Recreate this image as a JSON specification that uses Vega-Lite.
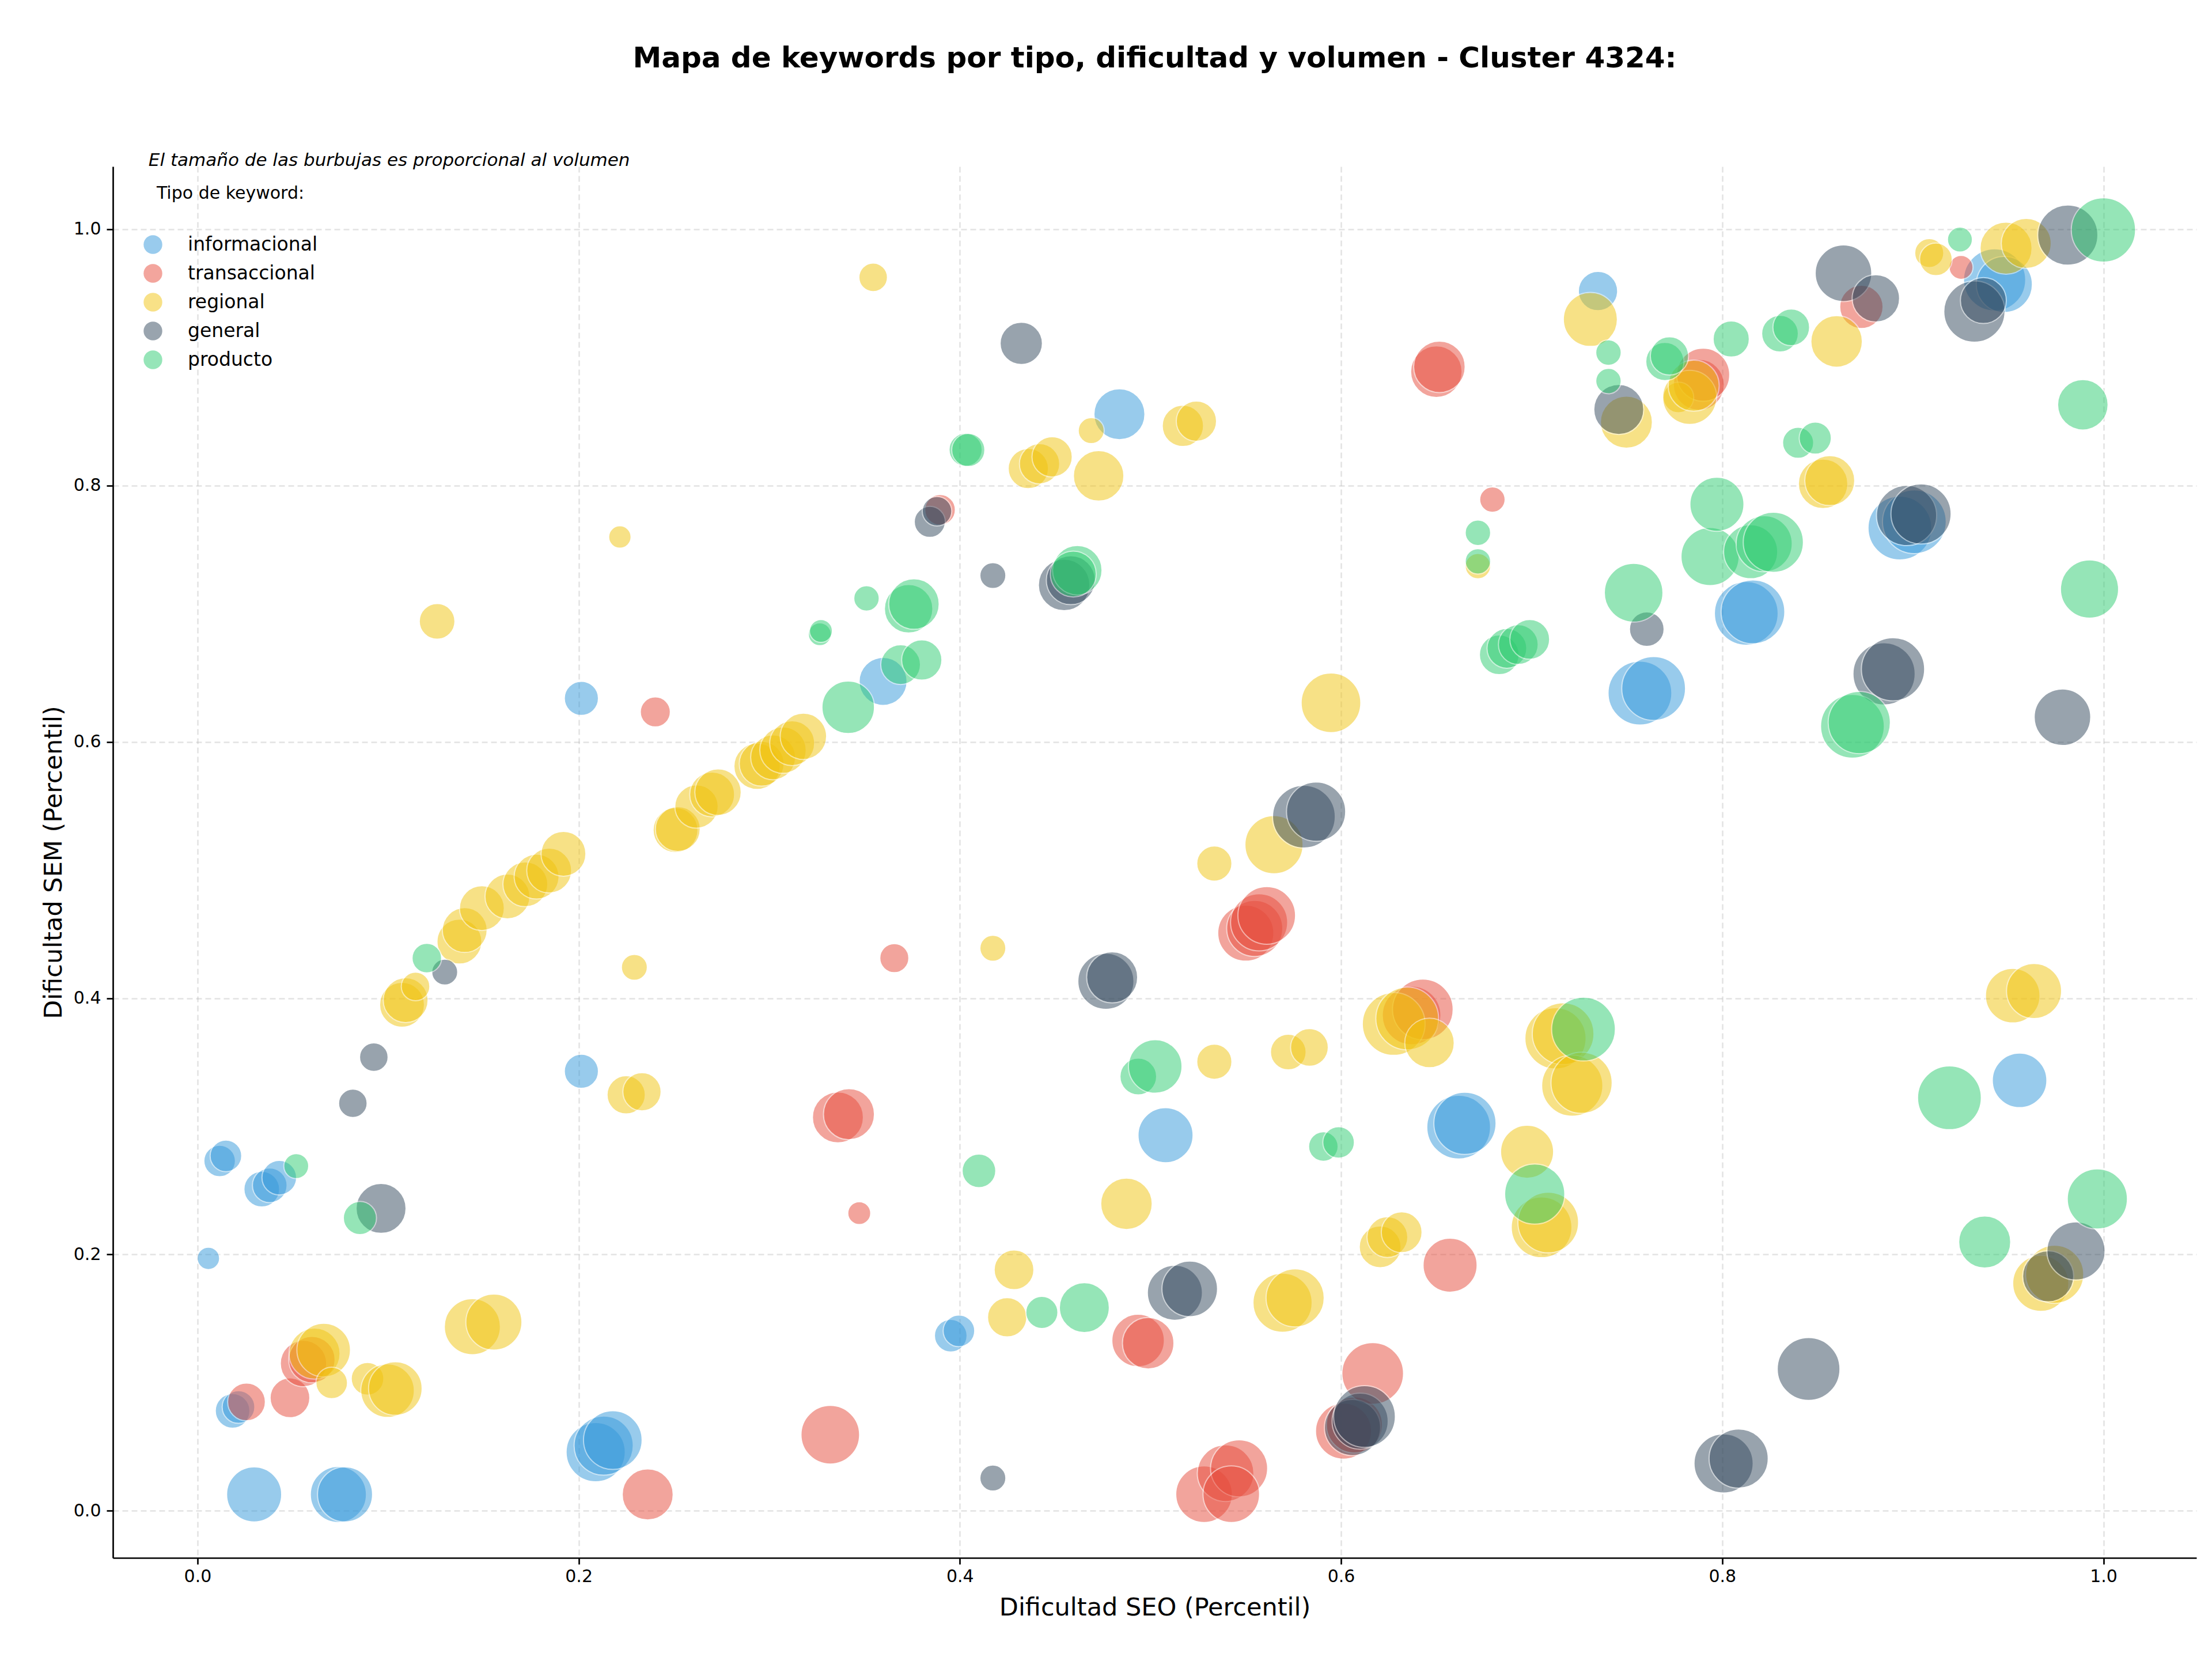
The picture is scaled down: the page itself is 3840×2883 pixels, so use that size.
{
  "$schema": "https://vega.github.io/schema/vega-lite/v6.json",
  "autosize": {"type": "none"},
  "padding": {"left": 196, "top": 289, "right": 27, "bottom": 179},
  "width": 3617,
  "height": 2415,
  "background": "white",
  "title": {"text": "Mapa de keywords por tipo, dificultad y volumen - Cluster 4324:", "fontSize": 50, "fontWeight": "bold", "font": "DejaVu Sans", "color": "black", "anchor": "middle", "offset": 136},
  "config": {
    "view": {"stroke": null},
    "axis": {"labelFont": "DejaVu Sans", "titleFont": "DejaVu Sans", "labelFontSize": 30, "titleFontSize": 43, "titleFontWeight": "normal", "labelColor": "black", "titleColor": "black", "domainColor": "black", "domainWidth": 2.7, "tickColor": "black", "tickWidth": 2.7, "tickSize": 11, "grid": true, "gridDash": [10, 6], "gridColor": "#b0b0b0", "gridOpacity": 0.35, "gridWidth": 2.5}
  },
  "datasets": {
    "kw": [
      {"tipo":"informacional","seo":0.0057,"sem":0.197,"volumen":194},
      {"tipo":"informacional","seo":0.0116,"sem":0.273,"volumen":384},
      {"tipo":"informacional","seo":0.0149,"sem":0.277,"volumen":384},
      {"tipo":"informacional","seo":0.0337,"sem":0.251,"volumen":490},
      {"tipo":"informacional","seo":0.0379,"sem":0.254,"volumen":462},
      {"tipo":"informacional","seo":0.0429,"sem":0.260,"volumen":462},
      {"tipo":"informacional","seo":0.0184,"sem":0.078,"volumen":462},
      {"tipo":"informacional","seo":0.0215,"sem":0.081,"volumen":410},
      {"tipo":"informacional","seo":0.0297,"sem":0.0128,"volumen":1166},
      {"tipo":"informacional","seo":0.0739,"sem":0.0128,"volumen":1210},
      {"tipo":"informacional","seo":0.0774,"sem":0.0128,"volumen":1166},
      {"tipo":"informacional","seo":0.2014,"sem":0.343,"volumen":449},
      {"tipo":"informacional","seo":0.2014,"sem":0.634,"volumen":449},
      {"tipo":"informacional","seo":0.2089,"sem":0.0458,"volumen":1346},
      {"tipo":"informacional","seo":0.2131,"sem":0.0509,"volumen":1346},
      {"tipo":"informacional","seo":0.2179,"sem":0.0552,"volumen":1322},
      {"tipo":"informacional","seo":0.3597,"sem":0.6472,"volumen":884},
      {"tipo":"informacional","seo":0.3952,"sem":0.1367,"volumen":410},
      {"tipo":"informacional","seo":0.3995,"sem":0.1404,"volumen":384},
      {"tipo":"informacional","seo":0.4837,"sem":0.8557,"volumen":1000},
      {"tipo":"informacional","seo":0.5079,"sem":0.2931,"volumen":1166},
      {"tipo":"informacional","seo":0.6617,"sem":0.2994,"volumen":1563},
      {"tipo":"informacional","seo":0.665,"sem":0.3024,"volumen":1488},
      {"tipo":"informacional","seo":0.7348,"sem":0.9518,"volumen":593},
      {"tipo":"informacional","seo":0.7568,"sem":0.6381,"volumen":1563},
      {"tipo":"informacional","seo":0.764,"sem":0.6417,"volumen":1563},
      {"tipo":"informacional","seo":0.8126,"sem":0.7003,"volumen":1563},
      {"tipo":"informacional","seo":0.8161,"sem":0.7015,"volumen":1563},
      {"tipo":"informacional","seo":0.8932,"sem":0.7669,"volumen":1563},
      {"tipo":"informacional","seo":0.9008,"sem":0.7718,"volumen":1563},
      {"tipo":"informacional","seo":0.9429,"sem":0.9605,"volumen":1488},
      {"tipo":"informacional","seo":0.948,"sem":0.957,"volumen":1210},
      {"tipo":"informacional","seo":0.956,"sem":0.3359,"volumen":1145},
      {"tipo":"transaccional","seo":0.0257,"sem":0.085,"volumen":548},
      {"tipo":"transaccional","seo":0.0485,"sem":0.0882,"volumen":608},
      {"tipo":"transaccional","seo":0.0556,"sem":0.115,"volumen":828},
      {"tipo":"transaccional","seo":0.06,"sem":0.118,"volumen":828},
      {"tipo":"transaccional","seo":0.2362,"sem":0.0128,"volumen":1000},
      {"tipo":"transaccional","seo":0.2402,"sem":0.6234,"volumen":348},
      {"tipo":"transaccional","seo":0.332,"sem":0.0594,"volumen":1322},
      {"tipo":"transaccional","seo":0.336,"sem":0.307,"volumen":1000},
      {"tipo":"transaccional","seo":0.3418,"sem":0.3095,"volumen":1000},
      {"tipo":"transaccional","seo":0.3472,"sem":0.2323,"volumen":203},
      {"tipo":"transaccional","seo":0.3656,"sem":0.4313,"volumen":325},
      {"tipo":"transaccional","seo":0.3896,"sem":0.7811,"volumen":360},
      {"tipo":"transaccional","seo":0.4935,"sem":0.1329,"volumen":1061},
      {"tipo":"transaccional","seo":0.4988,"sem":0.1308,"volumen":1020},
      {"tipo":"transaccional","seo":0.5281,"sem":0.013,"volumen":1232},
      {"tipo":"transaccional","seo":0.5394,"sem":0.0294,"volumen":1232},
      {"tipo":"transaccional","seo":0.5465,"sem":0.0332,"volumen":1254},
      {"tipo":"transaccional","seo":0.5424,"sem":0.013,"volumen":1232},
      {"tipo":"transaccional","seo":0.55,"sem":0.4508,"volumen":1210},
      {"tipo":"transaccional","seo":0.5547,"sem":0.4544,"volumen":1210},
      {"tipo":"transaccional","seo":0.557,"sem":0.4592,"volumen":1254},
      {"tipo":"transaccional","seo":0.561,"sem":0.4646,"volumen":1277},
      {"tipo":"transaccional","seo":0.6013,"sem":0.0622,"volumen":1210},
      {"tipo":"transaccional","seo":0.607,"sem":0.067,"volumen":1210},
      {"tipo":"transaccional","seo":0.6166,"sem":0.1072,"volumen":1464},
      {"tipo":"transaccional","seo":0.637,"sem":0.3866,"volumen":1322},
      {"tipo":"transaccional","seo":0.6429,"sem":0.3913,"volumen":1416},
      {"tipo":"transaccional","seo":0.65,"sem":0.8889,"volumen":1020},
      {"tipo":"transaccional","seo":0.6516,"sem":0.8927,"volumen":1020},
      {"tipo":"transaccional","seo":0.6572,"sem":0.1917,"volumen":1124},
      {"tipo":"transaccional","seo":0.6794,"sem":0.7891,"volumen":250},
      {"tipo":"transaccional","seo":0.7877,"sem":0.8787,"volumen":1000},
      {"tipo":"transaccional","seo":0.79,"sem":0.8865,"volumen":1082},
      {"tipo":"transaccional","seo":0.873,"sem":0.9395,"volumen":723},
      {"tipo":"transaccional","seo":0.9253,"sem":0.9703,"volumen":221},
      {"tipo":"regional","seo":0.0614,"sem":0.1227,"volumen":1000},
      {"tipo":"regional","seo":0.0662,"sem":0.1255,"volumen":1103},
      {"tipo":"regional","seo":0.0704,"sem":0.0998,"volumen":384},
      {"tipo":"regional","seo":0.0892,"sem":0.1031,"volumen":410},
      {"tipo":"regional","seo":0.0997,"sem":0.0938,"volumen":1103},
      {"tipo":"regional","seo":0.1038,"sem":0.0955,"volumen":1103},
      {"tipo":"regional","seo":0.1442,"sem":0.1437,"volumen":1210},
      {"tipo":"regional","seo":0.1555,"sem":0.1473,"volumen":1210},
      {"tipo":"regional","seo":0.1073,"sem":0.3949,"volumen":774},
      {"tipo":"regional","seo":0.1092,"sem":0.3985,"volumen":774},
      {"tipo":"regional","seo":0.1144,"sem":0.4092,"volumen":314},
      {"tipo":"regional","seo":0.1257,"sem":0.6941,"volumen":490},
      {"tipo":"regional","seo":0.1374,"sem":0.4442,"volumen":774},
      {"tipo":"regional","seo":0.1402,"sem":0.4532,"volumen":774},
      {"tipo":"regional","seo":0.1492,"sem":0.4703,"volumen":774},
      {"tipo":"regional","seo":0.1626,"sem":0.4794,"volumen":774},
      {"tipo":"regional","seo":0.172,"sem":0.4889,"volumen":774},
      {"tipo":"regional","seo":0.1779,"sem":0.4949,"volumen":774},
      {"tipo":"regional","seo":0.1845,"sem":0.4996,"volumen":774},
      {"tipo":"regional","seo":0.192,"sem":0.5127,"volumen":774},
      {"tipo":"regional","seo":0.2216,"sem":0.7599,"volumen":194},
      {"tipo":"regional","seo":0.2249,"sem":0.3246,"volumen":563},
      {"tipo":"regional","seo":0.2332,"sem":0.327,"volumen":563},
      {"tipo":"regional","seo":0.2292,"sem":0.4241,"volumen":260},
      {"tipo":"regional","seo":0.2508,"sem":0.5312,"volumen":774},
      {"tipo":"regional","seo":0.252,"sem":0.532,"volumen":774},
      {"tipo":"regional","seo":0.2618,"sem":0.5496,"volumen":723},
      {"tipo":"regional","seo":0.27,"sem":0.559,"volumen":774},
      {"tipo":"regional","seo":0.2731,"sem":0.5608,"volumen":828},
      {"tipo":"regional","seo":0.2936,"sem":0.581,"volumen":828},
      {"tipo":"regional","seo":0.296,"sem":0.583,"volumen":774},
      {"tipo":"regional","seo":0.302,"sem":0.588,"volumen":774},
      {"tipo":"regional","seo":0.3072,"sem":0.5936,"volumen":828},
      {"tipo":"regional","seo":0.312,"sem":0.599,"volumen":774},
      {"tipo":"regional","seo":0.3179,"sem":0.6044,"volumen":828},
      {"tipo":"regional","seo":0.3545,"sem":0.9625,"volumen":314},
      {"tipo":"regional","seo":0.4173,"sem":0.439,"volumen":260},
      {"tipo":"regional","seo":0.4248,"sem":0.151,"volumen":593},
      {"tipo":"regional","seo":0.4284,"sem":0.1881,"volumen":608},
      {"tipo":"regional","seo":0.4359,"sem":0.8133,"volumen":624},
      {"tipo":"regional","seo":0.4418,"sem":0.817,"volumen":624},
      {"tipo":"regional","seo":0.4484,"sem":0.8224,"volumen":624},
      {"tipo":"regional","seo":0.4689,"sem":0.8429,"volumen":260},
      {"tipo":"regional","seo":0.4728,"sem":0.8076,"volumen":980},
      {"tipo":"regional","seo":0.4874,"sem":0.2396,"volumen":1020},
      {"tipo":"regional","seo":0.517,"sem":0.8466,"volumen":656},
      {"tipo":"regional","seo":0.5241,"sem":0.8503,"volumen":624},
      {"tipo":"regional","seo":0.5335,"sem":0.5051,"volumen":476},
      {"tipo":"regional","seo":0.5335,"sem":0.3504,"volumen":476},
      {"tipo":"regional","seo":0.5648,"sem":0.5198,"volumen":1300},
      {"tipo":"regional","seo":0.5693,"sem":0.1624,"volumen":1346},
      {"tipo":"regional","seo":0.5759,"sem":0.1662,"volumen":1300},
      {"tipo":"regional","seo":0.5723,"sem":0.358,"volumen":490},
      {"tipo":"regional","seo":0.5834,"sem":0.3616,"volumen":548},
      {"tipo":"regional","seo":0.5947,"sem":0.6305,"volumen":1369},
      {"tipo":"regional","seo":0.6205,"sem":0.206,"volumen":672},
      {"tipo":"regional","seo":0.6243,"sem":0.2136,"volumen":640},
      {"tipo":"regional","seo":0.6318,"sem":0.2174,"volumen":640},
      {"tipo":"regional","seo":0.6276,"sem":0.3799,"volumen":1513},
      {"tipo":"regional","seo":0.6347,"sem":0.3842,"volumen":1513},
      {"tipo":"regional","seo":0.6464,"sem":0.3651,"volumen":941},
      {"tipo":"regional","seo":0.6718,"sem":0.7372,"volumen":250},
      {"tipo":"regional","seo":0.6976,"sem":0.2802,"volumen":1082},
      {"tipo":"regional","seo":0.7052,"sem":0.2212,"volumen":1416},
      {"tipo":"regional","seo":0.7087,"sem":0.225,"volumen":1416},
      {"tipo":"regional","seo":0.7125,"sem":0.3687,"volumen":1440},
      {"tipo":"regional","seo":0.7165,"sem":0.3723,"volumen":1464},
      {"tipo":"regional","seo":0.7213,"sem":0.3318,"volumen":1440},
      {"tipo":"regional","seo":0.7262,"sem":0.334,"volumen":1440},
      {"tipo":"regional","seo":0.7308,"sem":0.9297,"volumen":1124},
      {"tipo":"regional","seo":0.7497,"sem":0.8495,"volumen":1040},
      {"tipo":"regional","seo":0.777,"sem":0.8688,"volumen":360},
      {"tipo":"regional","seo":0.7829,"sem":0.8688,"volumen":1124},
      {"tipo":"regional","seo":0.785,"sem":0.878,"volumen":1000},
      {"tipo":"regional","seo":0.8529,"sem":0.8014,"volumen":941},
      {"tipo":"regional","seo":0.8564,"sem":0.8039,"volumen":960},
      {"tipo":"regional","seo":0.86,"sem":0.9125,"volumen":1020},
      {"tipo":"regional","seo":0.9086,"sem":0.9815,"volumen":325},
      {"tipo":"regional","seo":0.9121,"sem":0.9766,"volumen":410},
      {"tipo":"regional","seo":0.9489,"sem":0.9853,"volumen":1040},
      {"tipo":"regional","seo":0.9595,"sem":0.989,"volumen":960},
      {"tipo":"regional","seo":0.9524,"sem":0.402,"volumen":1145},
      {"tipo":"regional","seo":0.9636,"sem":0.4056,"volumen":1166},
      {"tipo":"regional","seo":0.9671,"sem":0.1775,"volumen":1210},
      {"tipo":"regional","seo":0.9744,"sem":0.1846,"volumen":1300},
      {"tipo":"general","seo":0.0815,"sem":0.318,"volumen":314},
      {"tipo":"general","seo":0.0925,"sem":0.354,"volumen":314},
      {"tipo":"general","seo":0.0963,"sem":0.236,"volumen":960},
      {"tipo":"general","seo":0.1297,"sem":0.4204,"volumen":260},
      {"tipo":"general","seo":0.3842,"sem":0.7717,"volumen":372},
      {"tipo":"general","seo":0.388,"sem":0.78,"volumen":336},
      {"tipo":"general","seo":0.4173,"sem":0.0256,"volumen":260},
      {"tipo":"general","seo":0.4173,"sem":0.7298,"volumen":260},
      {"tipo":"general","seo":0.4322,"sem":0.911,"volumen":689},
      {"tipo":"general","seo":0.4547,"sem":0.7225,"volumen":1020},
      {"tipo":"general","seo":0.4582,"sem":0.7262,"volumen":922},
      {"tipo":"general","seo":0.4766,"sem":0.4132,"volumen":1210},
      {"tipo":"general","seo":0.4799,"sem":0.4163,"volumen":1000},
      {"tipo":"general","seo":0.5128,"sem":0.1702,"volumen":1166},
      {"tipo":"general","seo":0.5206,"sem":0.1732,"volumen":1188},
      {"tipo":"general","seo":0.5805,"sem":0.5417,"volumen":1513},
      {"tipo":"general","seo":0.5869,"sem":0.5456,"volumen":1346},
      {"tipo":"general","seo":0.606,"sem":0.065,"volumen":1210},
      {"tipo":"general","seo":0.61,"sem":0.07,"volumen":1210},
      {"tipo":"general","seo":0.6123,"sem":0.0736,"volumen":1464},
      {"tipo":"general","seo":0.7457,"sem":0.8594,"volumen":960},
      {"tipo":"general","seo":0.7604,"sem":0.688,"volumen":462},
      {"tipo":"general","seo":0.8007,"sem":0.037,"volumen":1346},
      {"tipo":"general","seo":0.8086,"sem":0.0408,"volumen":1346},
      {"tipo":"general","seo":0.8453,"sem":0.1107,"volumen":1513},
      {"tipo":"general","seo":0.8636,"sem":0.9657,"volumen":1232},
      {"tipo":"general","seo":0.8806,"sem":0.9461,"volumen":865},
      {"tipo":"general","seo":0.8849,"sem":0.6531,"volumen":1488},
      {"tipo":"general","seo":0.8896,"sem":0.6567,"volumen":1538},
      {"tipo":"general","seo":0.8967,"sem":0.7767,"volumen":1392},
      {"tipo":"general","seo":0.9043,"sem":0.7779,"volumen":1392},
      {"tipo":"general","seo":0.9323,"sem":0.9358,"volumen":1440},
      {"tipo":"general","seo":0.937,"sem":0.9444,"volumen":810},
      {"tipo":"general","seo":0.971,"sem":0.183,"volumen":1000},
      {"tipo":"general","seo":0.9785,"sem":0.6193,"volumen":1232},
      {"tipo":"general","seo":0.9813,"sem":0.9955,"volumen":1392},
      {"tipo":"general","seo":0.9856,"sem":0.2028,"volumen":1300},
      {"tipo":"producto","seo":0.0518,"sem":0.269,"volumen":240},
      {"tipo":"producto","seo":0.0852,"sem":0.2285,"volumen":423},
      {"tipo":"producto","seo":0.1203,"sem":0.4313,"volumen":336},
      {"tipo":"producto","seo":0.3265,"sem":0.684,"volumen":203},
      {"tipo":"producto","seo":0.3271,"sem":0.6866,"volumen":203},
      {"tipo":"producto","seo":0.3414,"sem":0.627,"volumen":1061},
      {"tipo":"producto","seo":0.351,"sem":0.712,"volumen":250},
      {"tipo":"producto","seo":0.3689,"sem":0.6603,"volumen":608},
      {"tipo":"producto","seo":0.3731,"sem":0.7039,"volumen":903},
      {"tipo":"producto","seo":0.3759,"sem":0.7076,"volumen":980},
      {"tipo":"producto","seo":0.38,"sem":0.6639,"volumen":624},
      {"tipo":"producto","seo":0.403,"sem":0.828,"volumen":423},
      {"tipo":"producto","seo":0.4044,"sem":0.8278,"volumen":423},
      {"tipo":"producto","seo":0.41,"sem":0.2653,"volumen":436},
      {"tipo":"producto","seo":0.443,"sem":0.1548,"volumen":397},
      {"tipo":"producto","seo":0.4616,"sem":0.734,"volumen":941},
      {"tipo":"producto","seo":0.4595,"sem":0.731,"volumen":810},
      {"tipo":"producto","seo":0.4653,"sem":0.1586,"volumen":960},
      {"tipo":"producto","seo":0.4936,"sem":0.3389,"volumen":518},
      {"tipo":"producto","seo":0.5025,"sem":0.3468,"volumen":1103},
      {"tipo":"producto","seo":0.5907,"sem":0.2843,"volumen":336},
      {"tipo":"producto","seo":0.5987,"sem":0.2875,"volumen":384},
      {"tipo":"producto","seo":0.6718,"sem":0.7632,"volumen":250},
      {"tipo":"producto","seo":0.6718,"sem":0.7409,"volumen":250},
      {"tipo":"producto","seo":0.683,"sem":0.668,"volumen":608},
      {"tipo":"producto","seo":0.687,"sem":0.673,"volumen":608},
      {"tipo":"producto","seo":0.693,"sem":0.676,"volumen":608},
      {"tipo":"producto","seo":0.699,"sem":0.68,"volumen":608},
      {"tipo":"producto","seo":0.7016,"sem":0.2472,"volumen":1392},
      {"tipo":"producto","seo":0.7272,"sem":0.3759,"volumen":1563},
      {"tipo":"producto","seo":0.7403,"sem":0.9038,"volumen":250},
      {"tipo":"producto","seo":0.7403,"sem":0.8816,"volumen":250},
      {"tipo":"producto","seo":0.7535,"sem":0.7164,"volumen":1322},
      {"tipo":"producto","seo":0.7699,"sem":0.8968,"volumen":563},
      {"tipo":"producto","seo":0.7723,"sem":0.9012,"volumen":563},
      {"tipo":"producto","seo":0.7936,"sem":0.7446,"volumen":1300},
      {"tipo":"producto","seo":0.7972,"sem":0.7854,"volumen":1124},
      {"tipo":"producto","seo":0.8047,"sem":0.9144,"volumen":504},
      {"tipo":"producto","seo":0.8149,"sem":0.7484,"volumen":1124},
      {"tipo":"producto","seo":0.822,"sem":0.7546,"volumen":1210},
      {"tipo":"producto","seo":0.8268,"sem":0.7558,"volumen":1392},
      {"tipo":"producto","seo":0.8303,"sem":0.9186,"volumen":518},
      {"tipo":"producto","seo":0.8362,"sem":0.9235,"volumen":518},
      {"tipo":"producto","seo":0.8398,"sem":0.8334,"volumen":372},
      {"tipo":"producto","seo":0.8488,"sem":0.8371,"volumen":397},
      {"tipo":"producto","seo":0.8683,"sem":0.6122,"volumen":1563},
      {"tipo":"producto","seo":0.8719,"sem":0.6151,"volumen":1488},
      {"tipo":"producto","seo":0.9192,"sem":0.3223,"volumen":1563},
      {"tipo":"producto","seo":0.9247,"sem":0.992,"volumen":240},
      {"tipo":"producto","seo":0.9377,"sem":0.2098,"volumen":1040},
      {"tipo":"producto","seo":0.9892,"sem":0.8631,"volumen":980},
      {"tipo":"producto","seo":0.9927,"sem":0.7193,"volumen":1300},
      {"tipo":"producto","seo":0.9968,"sem":0.2434,"volumen":1392},
      {"tipo":"producto","seo":1.0,"sem":0.9995,"volumen":1588}
    ]
  },
  "layer": [
    {
      "data": {"name": "kw"},
      "mark": {"type": "point", "shape": "circle", "filled": true, "opacity": 0.5, "stroke": "white", "strokeWidth": 2},
      "encoding": {
        "x": {"field": "seo", "type": "quantitative", "scale": {"domain": [-0.0444, 1.0488], "nice": false, "zero": false}, "axis": {"title": "Dificultad SEO (Percentil)", "values": [0, 0.2, 0.4, 0.6, 0.8, 1.0], "format": ".1f", "labelPadding": 6, "titlePadding": 18}},
        "y": {"field": "sem", "type": "quantitative", "scale": {"domain": [-0.0367, 1.049], "nice": false, "zero": false}, "axis": {"title": "Dificultad SEM (Percentil)", "values": [0, 0.2, 0.4, 0.6, 0.8, 1.0], "format": ".1f", "labelPadding": 10, "titlePadding": 12}},
        "color": {"field": "tipo", "type": "nominal", "scale": {"domain": ["informacional", "transaccional", "regional", "general", "producto"], "range": ["#3498db", "#e74c3c", "#f1c40f", "#34495e", "#2ecc71"]}, "legend": {"orient": "none", "legendX": 53, "legendY": 32, "title": "Tipo de keyword:", "titleFont": "DejaVu Sans", "titleFontSize": 30, "titleFontWeight": "normal", "titleColor": "black", "titleAnchor": "middle", "titleLimit": 0, "titlePadding": 57, "labelFont": "DejaVu Sans", "labelFontSize": 33, "labelColor": "black", "labelLimit": 0, "labelOffset": 44, "symbolType": "circle", "symbolSize": 1052, "symbolOpacity": 0.5, "symbolStrokeWidth": 0, "rowPadding": 16, "padding": 0}},
        "size": {"field": "volumen", "type": "quantitative", "scale": {"type": "linear", "domain": [0, 2000], "range": [0, 15708], "zero": true}, "legend": null}
      }
    },
    {
      "data": {"values": [{"nota": "El tamaño de las burbujas es proporcional al volumen", "px": -0.0257, "py": 1.0537}]},
      "mark": {"type": "text", "align": "left", "baseline": "middle", "font": "DejaVu Sans", "fontStyle": "italic", "fontSize": 31, "color": "black"},
      "encoding": {"x": {"field": "px", "type": "quantitative"}, "y": {"field": "py", "type": "quantitative"}, "text": {"field": "nota"}}
    }
  ]
}
